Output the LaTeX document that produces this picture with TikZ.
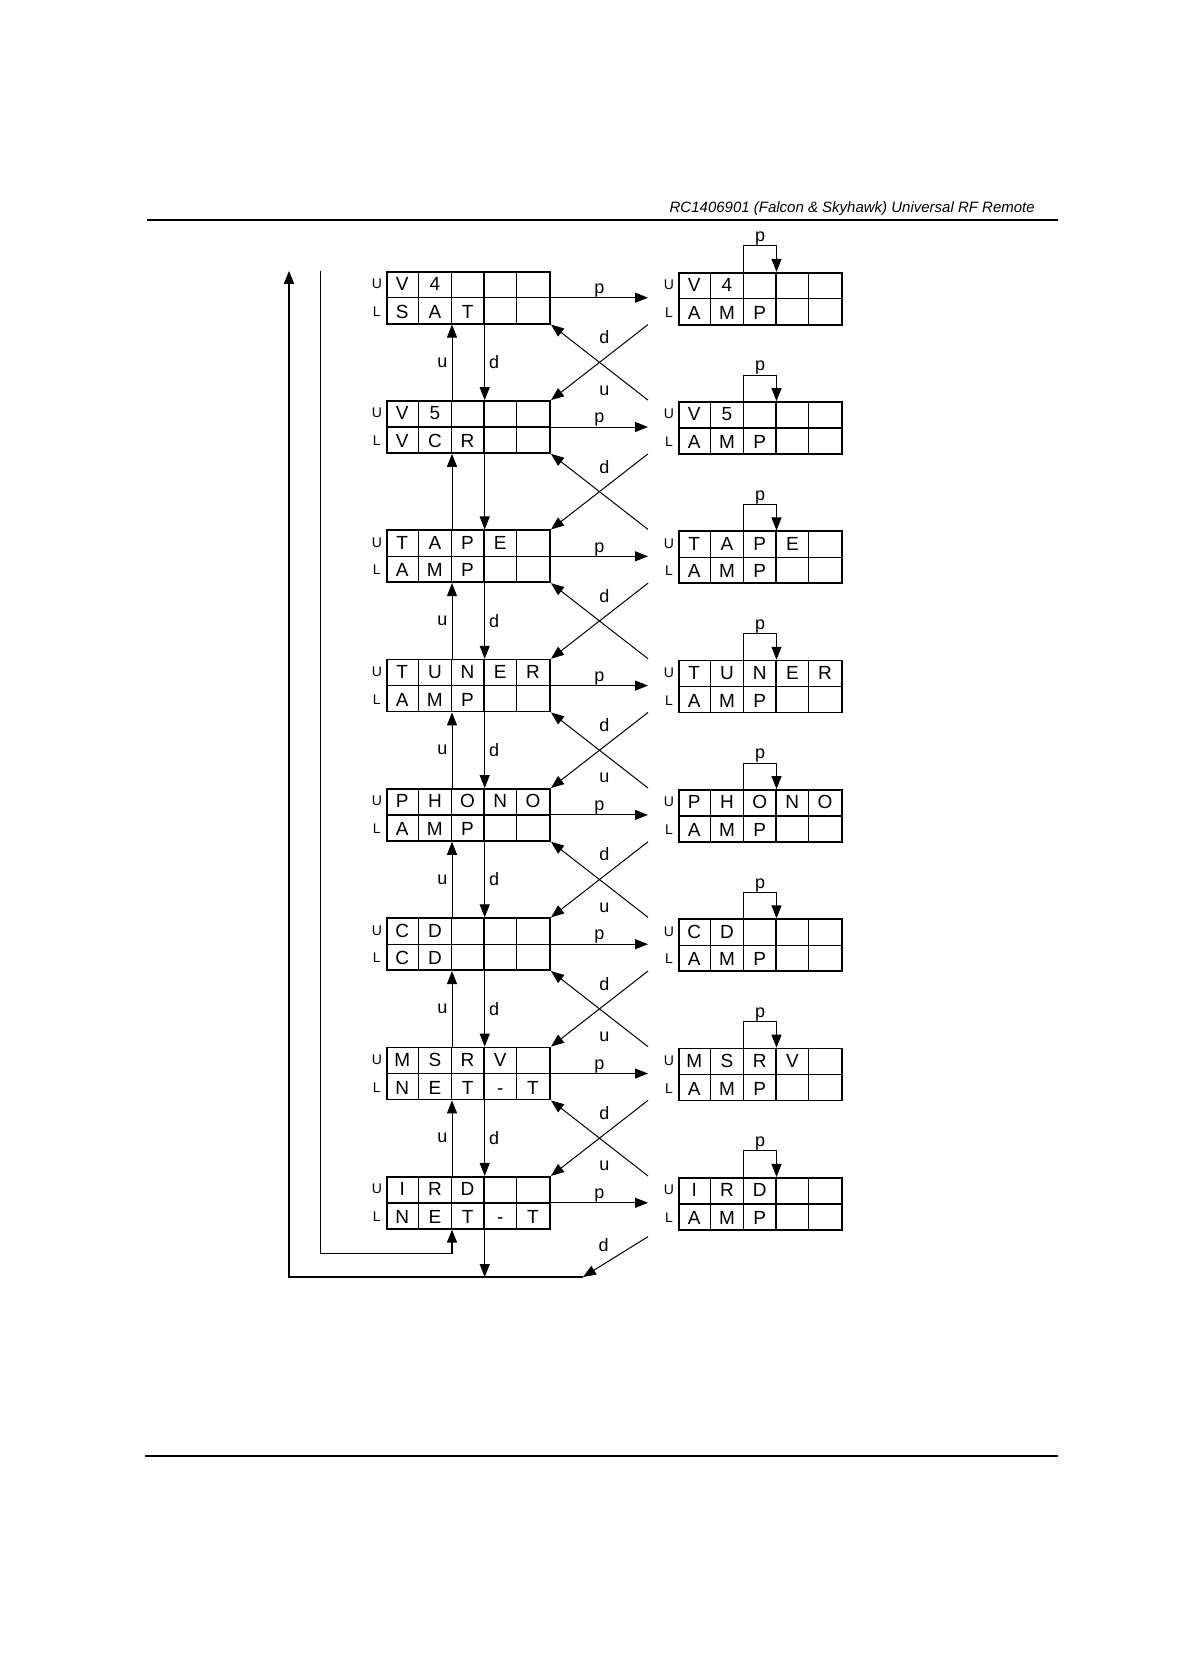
\documentclass[tikz,border=0pt]{standalone}
\usepackage{fontspec}
\setmainfont{Liberation Sans}
\usetikzlibrary{arrows.meta,calc}
\newcommand\cellw{32.68}
\tikzset{
  chan/.style={draw, line width=1.7pt, rectangle, inner sep=0pt, minimum width=163.4pt, minimum height=52pt},
  cellrule/.style={line width=1.4pt},
  letter/.style={inner sep=0pt, font=\fontsize{19}{19}\selectfont, text height=13.6pt, text depth=0pt},
  rowtag/.style={inner sep=0pt, font=\fontsize{14}{14}\selectfont},
  lab/.style={font=\fontsize{18}{18}\selectfont},
  arr/.style={-{Triangle[length=13pt,width=10pt]}, line width=1pt},
  wire/.style={line width=1.5pt},
  hdr/.style={font=\fontsize{15}{15}\selectfont\itshape, inner sep=0pt},
  rule/.style={line width=1.5pt},
}
% one 2x5 channel box: name, centre, upper letters, lower letters
\newcommand\chanbox[4]{%
  \node[chan] (#1) at (#2) {};
  \draw[cellrule] (#1.west) -- (#1.east);
  \foreach \j in {1,...,4}
    \draw[cellrule] ($(#1.north west)+(\j*\cellw,0)$) -- ($(#1.south west)+(\j*\cellw,0)$);
  \foreach \c [count=\j] in {#3}
    \node[letter] at ($(#1.north west)+(\j*\cellw-\cellw/2,13)$) {\c};
  \foreach \c [count=\j] in {#4}
    \node[letter] at ($(#1.south west)+(\j*\cellw-\cellw/2,-13)$) {\c};
  \node[rowtag] at ($(#1.north west)+(-9,13)$) {U};
  \node[rowtag] at ($(#1.south west)+(-9,-13)$) {L};
}
\newcommand\chanrow[3]{%
  \pgfmathsetmacro\rowy{297.7+129.3*(#1-1)}
  \chanbox{l#1}{468.4,\rowy}{#2}{#3}
  \chanbox{r#1}{760.5,\rowy+1}{#2}{A,M,P}
}
\begin{document}
\begin{tikzpicture}[x=1pt,y=-1pt]
  \useasboundingbox (0,0) rectangle (1188,1680);
  \node[hdr, anchor=base east] (title) at (1035,213) {RC1406901 (Falcon \& Skyhawk) Universal RF Remote};
  \draw[rule] (147,220) -- (1058,220);
  \draw[rule] (145,1456) -- (1058,1456);

  \chanrow{1}{V,4}{S,A,T}
  \chanrow{2}{V,5}{V,C,R}
  \chanrow{3}{T,A,P,E}{A,M,P}
  \chanrow{4}{T,U,N,E,R}{A,M,P}
  \chanrow{5}{P,H,O,N,O}{A,M,P}
  \chanrow{6}{C,D}{C,D}
  \chanrow{7}{M,S,R,V}{N,E,T,-,T}
  \chanrow{8}{I,R,D}{N,E,T,-,T}

  \coordinate (rail) at (648,0);
  \coordinate (ucol) at (452,0);
  \coordinate (dcol) at (484.7,0);
  \coordinate (pin) at (743.9,0);
  \coordinate (pout) at (776.5,0);
  \coordinate (outx) at (289,0);
  \coordinate (innx) at (320.5,0);

  \foreach \k in {1,...,8} {
    \draw[arr] (l\k.east) -- (l\k.east -| rail) node[midway, above, inner sep=0pt, lab] {p};
    \draw[arr] (r\k.north -| pin) |- ($(r\k.north -| pout)+(0,-26)$) node[pos=0.75, above, inner sep=0pt, lab] {p} -- (r\k.north -| pout);
  }

  \foreach \k/\vu/\vd/\xu [evaluate=\k as \n using int(\k+1)] in {1/u/d/u, 2/{}/{}/{}, 3/u/d/{}, 4/u/d/u, 5/u/d/u, 6/u/d/u, 7/u/d/u} {
    \draw[arr] (l\n.north -| ucol) -- (l\k.south -| ucol) node[midway, left, inner sep=4pt, lab] {\vu};
    \draw[arr] (l\k.south -| dcol) -- (l\n.north -| dcol) node[midway, right, inner sep=4pt, lab] {\vd};
    \draw[arr] (l\k.south east -| rail) -- (l\n.north east) node[midway, xshift=5pt, yshift=25pt, lab] {d};
    \draw[arr] (l\n.north east -| rail) -- (l\k.south east) node[midway, xshift=5pt, yshift=-28pt, lab] {\xu};
  }

  % wrap round from the last row to the first
  \coordinate (wrapin) at ($(l8.south east -| rail)+(0,7)$);
  \coordinate (wrapout) at (583,1277);
  \draw[arr] (wrapin) -- (wrapout) node[midway, xshift=-12pt, yshift=12pt, lab] {d};
  \draw[arr] (l8.south -| dcol) -- (wrapout -| dcol);
  \draw[arr, wire] (wrapout) -| (l1.north -| outx);
  \draw[arr, wire] (l1.north -| innx) |- ($(l8.south -| ucol)+(0,24)$) -- (l8.south -| ucol);
\end{tikzpicture}
\end{document}
